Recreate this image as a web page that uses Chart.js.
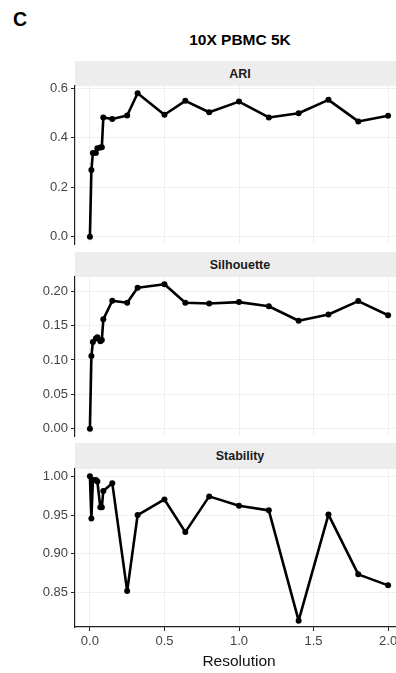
<!DOCTYPE html>
<html><head><meta charset="utf-8">
<script src="https://cdn.jsdelivr.net/npm/chart.js@4/dist/chart.umd.min.js"></script>
<style>
html,body{margin:0;padding:0;width:396px;height:673px;overflow:hidden;background:#fff;font-family:"Liberation Sans",Arial,Helvetica,sans-serif;}
.abs{position:absolute;}
.strip{position:absolute;left:75px;width:330px;background:#EDEDED;display:flex;align-items:center;justify-content:center;font-weight:bold;font-size:12.5px;color:#1a1a1a;}
canvas{position:absolute;left:0;}
</style></head><body>
<div class="abs" style="left:13px;top:10px;font-weight:bold;font-size:19.5px;line-height:19.5px;color:#000">C</div>
<div class="abs" style="left:75px;width:330px;top:32px;text-align:center;font-weight:bold;font-size:15.5px;line-height:15.5px;color:#000">10X PBMC 5K</div>
<div class="strip" style="top:61px;height:25px">ARI</div>
<div class="strip" style="top:252px;height:25px">Silhouette</div>
<div class="strip" style="top:443px;height:26px">Stability</div>
<canvas id="c1" width="406" height="182" style="top:74px"></canvas>
<canvas id="c2" width="406" height="183" style="top:265px"></canvas>
<canvas id="c3" width="406" height="216" style="top:457px"></canvas>
<script>
const resolution = [0, 0.01, 0.02, 0.04, 0.05, 0.07, 0.08, 0.09, 0.15, 0.25, 0.32, 0.5, 0.64, 0.8, 1.0, 1.2, 1.4, 1.6, 1.8, 2.0];
const ari = [0.000, 0.270, 0.338, 0.338, 0.358, 0.361, 0.362, 0.482, 0.476, 0.490, 0.580, 0.493, 0.549, 0.503, 0.546, 0.482, 0.499, 0.553, 0.466, 0.489];
const silhouette = [0.000, 0.1056, 0.126, 0.131, 0.133, 0.127, 0.129, 0.159, 0.186, 0.183, 0.205, 0.210, 0.183, 0.182, 0.184, 0.178, 0.157, 0.166, 0.1855, 0.165];
const stability = [1.000, 0.9455, 0.995, 0.995, 0.993, 0.960, 0.960, 0.981, 0.991, 0.852, 0.950, 0.970, 0.928, 0.974, 0.962, 0.956, 0.814, 0.9506, 0.8736, 0.8594];
const xTicks = [0, 0.5, 1.0, 1.5, 2.0];
const ariTicks = [0, 0.2, 0.4, 0.6];
const silTicks = [0, 0.05, 0.10, 0.15, 0.20];
const stabTicks = [0.85, 0.90, 0.95, 1.00];
const xTitle = "Resolution";

const FONT = "'Liberation Sans', Arial, Helvetica, sans-serif";
const GRID = '#EFEFEF';
const AXIS = '#222';

function makeChart(id, values, yTicks, dec, yMin, yMax, bottom) {
  const data = resolution.map((r, i) => ({x: r, y: values[i]}));
  return new Chart(document.getElementById(id), {
    type: 'line',
    data: {datasets: [{
      data, borderColor: '#000', backgroundColor: '#000', borderWidth: 2.6,
      pointRadius: 3, pointHoverRadius: 3, pointBackgroundColor: '#000', pointBorderWidth: 0,
      tension: 0, borderJoinStyle: 'round', borderCapStyle: 'round', clip: false
    }]},
    options: {
      responsive: false, animation: false, devicePixelRatio: 1,
      layout: {padding: {top: 12, bottom: bottom ? 0 : 12, left: 0, right: 0}},
      plugins: {legend: {display: false}, tooltip: {enabled: false}},
      scales: {
        x: {
          type: 'linear', min: -0.1, max: 2.1,
          afterBuildTicks: s => { s.ticks = xTicks.map(v => ({value: v})); },
          afterFit: s => { s.height = bottom ? 46 : 0; },
          grid: {color: GRID, lineWidth: 1, drawTicks: !!bottom, tickLength: 4, tickColor: AXIS, tickWidth: 1},
          border: {display: !!bottom, color: AXIS, width: 1.2},
          ticks: {display: !!bottom, color: '#444', font: {family: FONT, size: 13}, padding: 3, maxRotation: 0,
                  callback: v => Number(v).toFixed(1)},
          title: {display: !!bottom, text: xTitle, color: '#111', font: {family: FONT, size: 15.5}, padding: {top: 0, bottom: 2}}
        },
        y: {
          type: 'linear', min: yMin, max: yMax,
          afterBuildTicks: s => { s.ticks = yTicks.map(v => ({value: v})); },
          afterFit: s => { s.width = 75; },
          grid: {color: GRID, lineWidth: 1, drawTicks: true, tickLength: 4, tickColor: AXIS, tickWidth: 1},
          border: {display: true, color: AXIS, width: 1.2},
          ticks: {color: '#444', font: {family: FONT, size: 13}, padding: 3,
                  callback: v => Number(v).toFixed(dec)}
        }
      }
    }
  });
}
makeChart('c1', ari, ariTicks, 1, -0.029, 0.609, false);
makeChart('c2', silhouette, silTicks, 2, -0.0105, 0.2205, false);
makeChart('c3', stability, stabTicks, 2, 0.8058, 1.00925, true);
</script>
</body></html>
